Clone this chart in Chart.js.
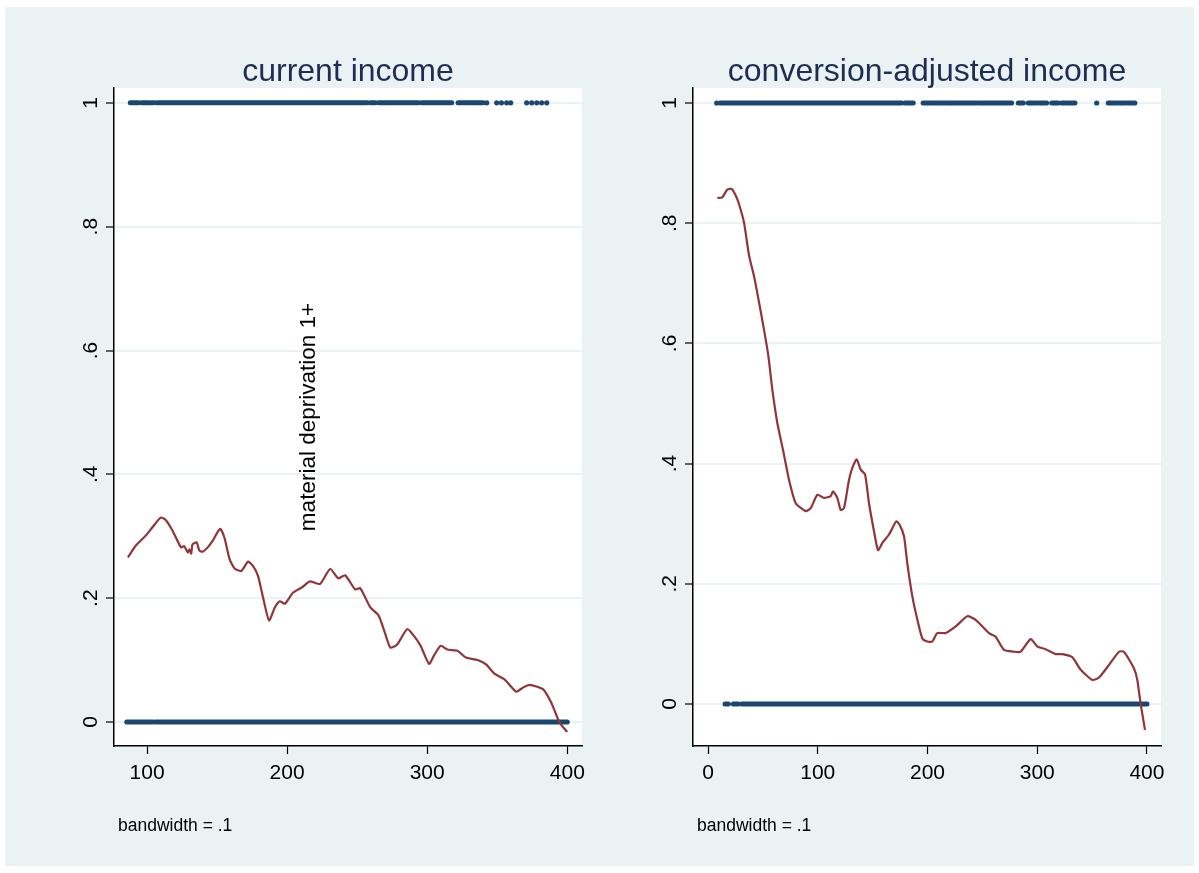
<!DOCTYPE html>
<html>
<head>
<meta charset="utf-8">
<script src="https://cdn.jsdelivr.net/npm/chart.js@4.4.1/dist/chart.umd.min.js"></script>
<style>
  html, body { margin: 0; padding: 0; background: #ffffff; }
  #frame { position: absolute; left: 5px; top: 7px; width: 1189px; height: 859px; background: #eaf2f3; }
  canvas { position: absolute; top: 0; }
</style>
</head>
<body>
<div id="frame"></div>
<canvas id="leftPanel" width="600" height="873" style="left:0px"></canvas>
<canvas id="rightPanel" width="599" height="873" style="left:600px"></canvas>
<script>
// ---- tick values and labels ----
const yTickValues = [0, 0.2, 0.4, 0.6, 0.8, 1];
const yTickLabels = ['0', '.2', '.4', '.6', '.8', '1'];
const currentXTicks = [100, 200, 300, 400];
const adjustedXTicks = [0, 100, 200, 300, 400];

// ---- lowess smooth, current income ----
const currentX = [86.4, 92, 99, 104, 109.8, 113, 118.2, 124.2, 126.5, 129, 130.2, 131.5, 132.5, 135.4, 137.3, 139.7,
  143.3, 146.9, 152.1, 155.2, 158.9, 162.5, 167.3, 172.1, 175.6, 179.2, 182.8, 187.1, 191.2, 194.8, 198.4, 204.3,
  210.3, 216.3, 223.5, 230.7, 236.6, 241.4, 248.6, 252.2, 259.4, 265.3, 270.1, 273.7, 278.5, 285.7, 290.5, 295.3,
  301.3, 305, 309.6, 314.4, 321.6, 327.6, 336, 342, 348, 355.1, 363.5, 368, 373, 382.6, 388.6, 394.5, 400];
const currentY = [0.266, 0.285, 0.301, 0.315, 0.330, 0.327, 0.309, 0.282, 0.284, 0.274, 0.279, 0.272, 0.287, 0.290, 0.277, 0.275,
  0.282, 0.293, 0.312, 0.298, 0.263, 0.248, 0.244, 0.259, 0.252, 0.236, 0.201, 0.164, 0.185, 0.195, 0.191, 0.209,
  0.217, 0.227, 0.223, 0.247, 0.232, 0.237, 0.214, 0.216, 0.185, 0.172, 0.142, 0.120, 0.125, 0.150, 0.139, 0.123,
  0.094, 0.108, 0.123, 0.117, 0.115, 0.104, 0.100, 0.093, 0.078, 0.069, 0.049, 0.055, 0.060, 0.053, 0.031, -0.001, -0.016];

// ---- lowess smooth, conversion-adjusted income ----
const adjustedX = [8.5, 13, 17.6, 21.6, 25.2, 28.2, 32.8, 37.4, 41.9, 46.5, 51, 55, 58.6, 63.1, 68.3, 73.8, 79.9, 89,
  93.6, 99.6, 105.7, 111.8, 113.9, 117.8, 120.9, 123.9, 128.5, 131.5, 135.5, 139.1, 143.1, 146.7, 151.3, 154.9,
  158.9, 164.9, 171.6, 174.7, 178.6, 181.6, 186.2, 190.8, 195.3, 199.8, 204.4, 208.9, 216.6, 225.7, 236.3, 243.9,
  256, 262.1, 269.7, 278.8, 284.9, 294, 300, 307.6, 316.8, 322.8, 331.9, 339.6, 350.2, 356.3, 365.4, 374.5, 379,
  388.2, 391.2, 394.2, 398.2];
const adjustedY = [0.842, 0.843, 0.856, 0.857, 0.846, 0.832, 0.801, 0.746, 0.712, 0.668, 0.623, 0.579, 0.523, 0.468,
  0.423, 0.373, 0.334, 0.321, 0.326, 0.348, 0.343, 0.346, 0.354, 0.343, 0.323, 0.326, 0.373, 0.393, 0.407, 0.390,
  0.382, 0.334, 0.287, 0.256, 0.268, 0.282, 0.304, 0.298, 0.279, 0.234, 0.179, 0.140, 0.109, 0.104, 0.104, 0.118,
  0.118, 0.129, 0.146, 0.140, 0.118, 0.112, 0.090, 0.087, 0.087, 0.108, 0.096, 0.091, 0.083, 0.083, 0.078, 0.057,
  0.040, 0.044, 0.065, 0.087, 0.087, 0.059, 0.040, 0.001, -0.043];

// ---- observed outcomes (0/1): dense stretches as [from, to], isolated ones as single x ----
const currentOnesRuns = [[88, 94], [96, 101.5], [103, 105], [107, 257], [259, 263], [265, 294], [296, 317.5], [322, 340]];
const currentOnesSingle = [342.5, 349.6, 353, 356.7, 359.6, 371, 374.6, 378.2, 381.7, 385.3];
const currentZerosRuns = [[85.5, 100], [101.2, 104.3], [106, 400]];
const currentZerosSingle = [];

const adjustedOnesRuns = [[10.9, 176.5], [179.5, 187], [196, 214], [216, 245], [247, 276.7], [282.7, 287.3], [291.8, 300],
  [302, 308.6], [313.2, 319.2], [322.3, 326], [328, 334.4], [364.7, 372], [374, 380], [382, 389]];
const adjustedOnesSingle = [7.9, 354.2];
const adjustedZerosRuns = [[15.5, 18.5], [23, 27.6], [30.7, 400]];
const adjustedZerosSingle = [];

// ---- styling ----
const FONT = '"Liberation Sans", Arial, Helvetica, sans-serif';
const NAVY = '#1a476f';
const MAROON = '#90353b';
const GRID = '#eaf2f3';

function pairs(xs, ys) { return xs.map((x, i) => ({ x: x, y: ys[i] })); }
function runsToPoints(runs, level) {
  const out = [];
  runs.forEach(r => { out.push({ x: r[0], y: level }, { x: r[1], y: level }, { x: r[1], y: null }); });
  return out;
}
function singles(xs, level) { return xs.map(x => ({ x: x, y: level })); }

const panelDecor = {
  id: 'panelDecor',
  beforeDraw(chart, args, o) {
    const a = chart.chartArea, ctx = chart.ctx;
    ctx.save();
    ctx.fillStyle = '#ffffff';
    ctx.fillRect(a.left, a.top, a.right - a.left, a.bottom - a.top);
    ctx.restore();
  },
  afterDraw(chart, args, o) {
    const a = chart.chartArea, ctx = chart.ctx;
    const xs = chart.scales.x, ys = chart.scales.y;
    ctx.save();
    // title
    ctx.fillStyle = '#1e2d53';
    ctx.font = '32px ' + FONT;
    ctx.textAlign = 'center';
    ctx.textBaseline = 'alphabetic';
    ctx.fillText(o.title, (a.left + a.right) / 2, 81);
    // y tick labels, rotated
    ctx.fillStyle = '#000';
    ctx.font = '21px ' + FONT;
    yTickValues.forEach((v, i) => {
      const py = ys.getPixelForValue(v);
      ctx.save();
      ctx.translate(a.left - 23, py);
      ctx.rotate(-Math.PI / 2);
      ctx.textAlign = 'center';
      ctx.textBaseline = 'middle';
      ctx.fillText(yTickLabels[i], 0, 0);
      ctx.restore();
    });
    // x tick labels
    ctx.textAlign = 'center';
    ctx.textBaseline = 'middle';
    o.xTicks.forEach(v => {
      ctx.fillText(String(v), xs.getPixelForValue(v), a.bottom + 27);
    });
    // note
    ctx.font = '17.5px ' + FONT;
    ctx.textAlign = 'left';
    ctx.textBaseline = 'alphabetic';
    ctx.fillText('bandwidth = .1', a.left + 4, 831);
    // y title
    if (o.yTitle) {
      ctx.font = '22.5px ' + FONT;
      ctx.translate(o.yTitleX, o.yTitleY);
      ctx.rotate(-Math.PI / 2);
      ctx.textAlign = 'center';
      ctx.textBaseline = 'middle';
      ctx.fillText(o.yTitle, 0, 0);
    }
    ctx.restore();
  }
};

function makePanel(canvasId, cfg) {
  const datasets = [
    { data: pairs(cfg.lx, cfg.ly), showLine: true, borderColor: MAROON, borderWidth: 2.2, pointRadius: 0,
      tension: 0.2, borderJoinStyle: 'round', order: 0 },
    { data: runsToPoints(cfg.onesRuns, 1).concat(runsToPoints(cfg.zerosRuns, 0)), showLine: true, spanGaps: false,
      borderColor: NAVY, borderWidth: 5, borderCapStyle: 'round', pointRadius: 0, order: 1 },
    { data: singles(cfg.onesSingle, 1).concat(singles(cfg.zerosSingle, 0)), showLine: false,
      pointRadius: 2.6, pointBackgroundColor: NAVY, pointBorderWidth: 0, order: 1 }
  ];
  return new Chart(document.getElementById(canvasId), {
    type: 'scatter',
    data: { datasets: datasets },
    options: {
      responsive: false, animation: false, devicePixelRatio: 1,
      layout: { padding: cfg.padding },
      plugins: {
        legend: { display: false }, tooltip: { enabled: false },
        panelDecor: { title: cfg.title, xTicks: cfg.xTicks, yTitle: cfg.yTitle, yTitleX: cfg.yTitleX, yTitleY: cfg.yTitleY }
      },
      scales: {
        x: {
          type: 'linear', position: 'bottom', min: cfg.xMin, max: cfg.xMax,
          afterBuildTicks: s => { s.ticks = cfg.xTicks.map(v => ({ value: v })); },
          ticks: { display: false },
          grid: { drawOnChartArea: false, drawTicks: true, tickLength: 8, tickColor: '#000', tickWidth: 1.2 },
          border: { display: true, color: '#000', width: 1.5 }
        },
        y: {
          type: 'linear', position: 'left', min: cfg.yMin, max: cfg.yMax,
          afterBuildTicks: s => { s.ticks = yTickValues.map(v => ({ value: v })); },
          ticks: { display: false },
          grid: { color: GRID, lineWidth: 2, drawTicks: true, tickLength: 8, tickColor: '#000', tickWidth: 1.2 },
          border: { display: true, color: '#000', width: 1.5 }
        }
      }
    },
    plugins: [panelDecor]
  });
}

makePanel('leftPanel', {
  title: 'current income', xTicks: currentXTicks,
  lx: currentX, ly: currentY,
  onesRuns: currentOnesRuns, onesSingle: currentOnesSingle,
  zerosRuns: currentZerosRuns, zerosSingle: currentZerosSingle,
  xMin: 76.4, xMax: 410.5, yMin: -0.0388, yMax: 1.024,
  padding: { left: 106, right: 18, top: 88, bottom: 119 },
  yTitle: 'material deprivation 1+', yTitleX: 309, yTitleY: 417
});

makePanel('rightPanel', {
  title: 'conversion-adjusted income', xTicks: adjustedXTicks,
  lx: adjustedX, ly: adjustedY,
  onesRuns: adjustedOnesRuns, onesSingle: adjustedOnesSingle,
  zerosRuns: adjustedZerosRuns, zerosSingle: adjustedZerosSingle,
  xMin: -13.7, xMax: 412.8, yMin: -0.0699, yMax: 1.025,
  padding: { left: 85, right: 38, top: 88, bottom: 119 }
});
</script>
</body>
</html>
